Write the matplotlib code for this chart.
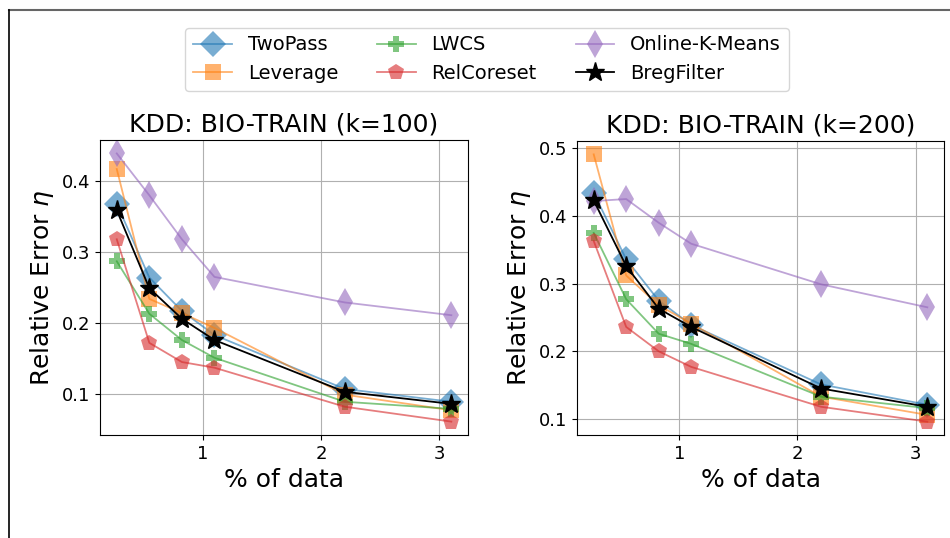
import numpy as np
import matplotlib
matplotlib.use("Agg")
import matplotlib.pyplot as plt
from matplotlib.lines import Line2D

# % of data sampled
pct = [0.275, 0.55, 0.825, 1.1, 2.2, 3.1]

# relative error, k=100
k100_twopass = [0.368, 0.264, 0.217, 0.183, 0.107, 0.089]
k100_leverage = [0.417, 0.234, 0.214, 0.193, 0.099, 0.077]
k100_lwcs = [0.287, 0.213, 0.176, 0.151, 0.089, 0.079]
k100_relcoreset = [0.318, 0.172, 0.145, 0.137, 0.082, 0.061]
k100_online = [0.439, 0.380, 0.318, 0.265, 0.229, 0.211]
k100_breg = [0.359, 0.249, 0.206, 0.176, 0.103, 0.086]

# relative error, k=200
k200_twopass = [0.434, 0.336, 0.275, 0.239, 0.151, 0.121]
k200_leverage = [0.491, 0.312, 0.268, 0.241, 0.133, 0.106]
k200_lwcs = [0.375, 0.277, 0.226, 0.211, 0.133, 0.116]
k200_relcoreset = [0.363, 0.236, 0.200, 0.177, 0.118, 0.096]
k200_online = [0.422, 0.425, 0.390, 0.359, 0.299, 0.265]
k200_breg = [0.423, 0.326, 0.263, 0.236, 0.145, 0.118]

methods = ["TwoPass", "Leverage", "LWCS", "RelCoreset", "Online-K-Means", "BregFilter"]
styles = {
    "TwoPass":        dict(color="tab:blue",   marker="D", ms=13, alpha=0.6, mew=0),
    "Leverage":       dict(color="tab:orange", marker="s", ms=12, alpha=0.6, mew=0),
    "LWCS":           dict(color="tab:green",  marker="P", ms=12, alpha=0.6, mew=0),
    "RelCoreset":     dict(color="tab:red",    marker="p", ms=12, alpha=0.6, mew=0),
    "Online-K-Means": dict(color="tab:purple", marker="d", ms=14, alpha=0.6, mew=0),
    "BregFilter":     dict(color="black",      marker="*", ms=14, alpha=1.0, mew=1),
}

panels = [
    ("KDD: BIO-TRAIN (k=100)", [k100_twopass, k100_leverage, k100_lwcs,
                                k100_relcoreset, k100_online, k100_breg]),
    ("KDD: BIO-TRAIN (k=200)", [k200_twopass, k200_leverage, k200_lwcs,
                                k200_relcoreset, k200_online, k200_breg]),
]

fig = plt.figure(figsize=(9.5, 5.38), dpi=100)
ax_boxes = [[0.1053, 0.1914, 0.3874, 0.5483], [0.6074, 0.1914, 0.3863, 0.5465]]

handles = []
for (title, series), box in zip(panels, ax_boxes):
    ax = fig.add_axes(box)
    handles = []
    for name, vals in zip(methods, series):
        st = styles[name]
        h, = ax.plot(pct, vals, color=st["color"], marker=st["marker"],
                     markersize=st["ms"], markeredgewidth=st["mew"],
                     alpha=st["alpha"], linewidth=1.3, label=name)
        handles.append(h)
    ax.set_title(title, fontsize=18)
    ax.set_xlabel("% of data", fontsize=18)
    ax.set_ylabel(r"Relative Error $\eta$", fontsize=18)
    ax.set_xticks([1, 2, 3])
    ax.tick_params(labelsize=13)
    ax.grid(True)

fig.legend(handles=handles, labels=methods, loc="upper center", ncol=3,
           bbox_to_anchor=(487 / 950, 1 - 18 / 538), fontsize=14,
           columnspacing=2.0)

# outer frame lines
fig.add_artist(Line2D([9 / 950, 1], [1 - 10 / 538, 1 - 10 / 538], color="#666666", lw=1.5))
fig.add_artist(Line2D([9 / 950, 9 / 950], [0, 1 - 10 / 538], color="black", lw=1.2))

fig.savefig("out.png", dpi=100)
